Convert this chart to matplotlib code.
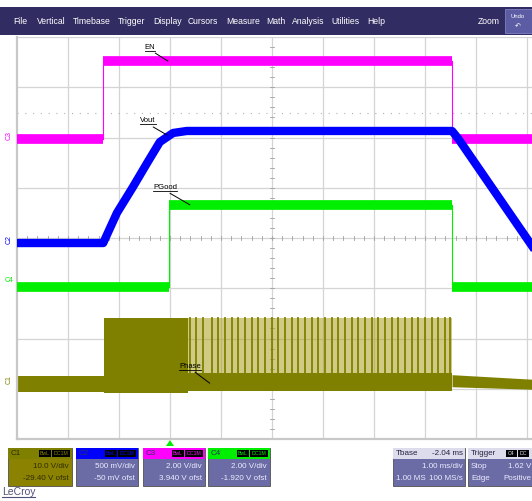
import matplotlib
matplotlib.use("Agg")
import matplotlib.pyplot as plt
from matplotlib.lines import Line2D
from matplotlib.patches import Rectangle, Polygon

plt.rcParams["font.family"] = ["Liberation Sans", "DejaVu Sans"]

W, H = 532, 501

# ---- trace data, in screen divisions (x: 0..10 time div, y: 0..8 volt div)
en_t = [0, 1.69, 1.69, 8.53, 8.53, 10.1]
en_v = [5.97, 5.97, 7.52, 7.52, 5.97, 5.97]

vout_t = [0, 1.69, 1.96, 2.27, 2.55, 2.80, 3.06, 3.33, 3.60, 8.53, 8.65, 10.1]
vout_v = [3.90, 3.90, 4.50, 5.01, 5.49, 5.91, 6.09, 6.13, 6.13, 6.13, 5.98, 3.84]

pg_t = [0, 2.98, 2.98, 8.53, 8.53, 10.1]
pg_v = [3.02, 3.02, 4.66, 4.66, 3.02, 3.02]

# phase node: idle band, full-switching block, burst region, tail
phase_idle_t = [0, 1.71]
phase_idle_lo = [0.93, 0.93]
phase_idle_hi = [1.25, 1.25]
phase_block_t = [1.71, 3.35]
phase_block_lo = [0.92, 0.92]
phase_block_hi = [2.41, 2.41]
phase_burst_t = [3.35, 8.53]
phase_burst_lo = [0.96, 0.96]
phase_burst_mid = [1.32, 1.32]
phase_burst_hi = [2.41, 2.41]
phase_tail_t = [8.53, 10.1]
phase_tail_lo = [1.04, 0.99]
phase_tail_hi = [1.28, 1.19]
phase_pulses = [3.39, 3.51, 3.65, 3.82, 3.94, 4.08, 4.22, 4.33, 4.47, 4.61,
                4.73, 4.86, 5.00, 5.12, 5.25, 5.39, 5.51, 5.65, 5.78, 5.90,
                6.04, 6.18, 6.29, 6.43, 6.57, 6.69, 6.82, 6.96, 7.08, 7.22,
                7.35, 7.47, 7.61, 7.75, 7.86, 8.00, 8.14, 8.25, 8.39, 8.49]

# trace labels: (text, text pos, leader end)
trace_labels = [
    ("EN", (2.61, 7.80), (2.96, 7.52)),
    ("Vout", (2.57, 6.33), (2.94, 6.05)),
    ("PGood", (2.90, 5.01), (3.39, 4.66)),
    ("Phase", (3.39, 1.45), (3.78, 1.11)),
]

menu_items = ["File", "Vertical", "Timebase", "Trigger", "Display", "Cursors",
              "Measure", "Math", "Analysis", "Utilities", "Help"]
menu_x = [13, 37, 73, 118, 153, 188, 226, 266, 292, 331, 367]

channels = ["C1", "C2", "C3", "C4"]
ch_scale = ["10.0 V/div", "500 mV/div", "2.00 V/div", "2.00 V/div"]
ch_offset = ["-29.40 V ofst", "-50 mV ofst", "3.940 V ofst", "-1.920 V ofst"]
ch_box_x = [(8, 72), (76, 138), (143, 205), (208, 270)]

OLIVE = "#808000"
MAGENTA = "#ff00ff"
BLUE = "#0000ff"
GREEN = "#00ee00"
NAVY = "#312d63"
PANEL = "#6b6ba6"


def fx(x):
    return x / W


def fy(y):
    return 1 - y / H


fig = plt.figure(figsize=(W / 100, H / 100), dpi=100)
fig.patch.set_facecolor("white")
underlined = []

# ---- menu bar
fig.add_artist(Rectangle((0, fy(35)), 1, (35 - 7) / H, transform=fig.transFigure,
                         facecolor=NAVY, edgecolor="none"))
for label, x in zip(menu_items, menu_x):
    fig.text(fx(x), fy(21), label, color="white", fontsize=6.2, va="center", ha="left")
fig.text(fx(478), fy(21), "Zoom", color="white", fontsize=6.2, va="center")
fig.add_artist(Rectangle((fx(505), fy(33)), fx(27), 24 / H, transform=fig.transFigure,
                         facecolor="#5c5ca4", edgecolor="#8080c0", lw=0.6))
fig.text(fx(518), fy(16), "Undo", color="white", fontsize=4.2, ha="center", va="center")
fig.text(fx(518), fy(26), "\u21b6", color="white", fontsize=5, ha="center", va="center",
         family=["DejaVu Sans"])

# ---- scope grid
ax = fig.add_axes([fx(17), fy(439), (W - 17) / W, (439 - 37) / H])
ax.set_xlim(0, 515 / 51)
ax.set_ylim(0, 8)
ax.set_xticks([])
ax.set_yticks([])
for s in ("top", "right"):
    ax.spines[s].set_visible(False)
for s in ("left", "bottom"):
    ax.spines[s].set_color("#c8c8c8")
    ax.spines[s].set_linewidth(1.6)
for k in range(1, 11):
    ax.axvline(k, color="#d4d4d4", lw=0.9, zorder=0)
for k in range(1, 9):
    ax.axhline(k, color="#d4d4d4", lw=0.9, zorder=0)
ax.axhline(6.49, color="#b0b0b0", lw=0.8, ls=(0, (1, 6)), zorder=0)
for k in range(50):
    ax.plot([k * 0.2, k * 0.2], [3.96, 4.04], color="#a0a0a0", lw=0.6, zorder=0)
for k in range(40):
    ax.plot([4.96, 5.04], [k * 0.2, k * 0.2], color="#a0a0a0", lw=0.6, zorder=0)


def draw_digital(t, v, color, thick):
    for i in range(len(t) - 1):
        if t[i] == t[i + 1]:
            ax.plot(t[i:i + 2], v[i:i + 2], color=color, lw=0.8, zorder=3)
        else:
            ax.plot(t[i:i + 2], v[i:i + 2], color=color, lw=thick,
                    solid_capstyle="butt", zorder=3)


# phase (C1)
ax.fill_between(phase_idle_t, phase_idle_lo, phase_idle_hi, color=OLIVE, lw=0, zorder=2)
ax.fill_between(phase_block_t, phase_block_lo, phase_block_hi, color=OLIVE, lw=0, zorder=2)
ax.fill_between(phase_burst_t, phase_burst_mid, phase_burst_hi, color="#a8a020",
                alpha=0.55, lw=0, zorder=1)
ax.fill_between(phase_burst_t, phase_burst_lo, phase_burst_mid, color=OLIVE, lw=0, zorder=2)
ax.fill_between(phase_tail_t, phase_tail_lo, phase_tail_hi, color=OLIVE, lw=0, zorder=2)
for p in phase_pulses:
    ax.plot([p, p], [phase_burst_mid[0] - 0.1, phase_burst_hi[0]], color=OLIVE,
            lw=1.3, zorder=2)

draw_digital(en_t, en_v, MAGENTA, 7)
draw_digital(pg_t, pg_v, GREEN, 7)
ax.plot(vout_t, vout_v, color=BLUE, lw=6, zorder=4, solid_joinstyle="round")

for text, (tx, ty), (lx, ly) in trace_labels:
    lab = ax.text(tx, ty, text, fontsize=5.5, ha="center", va="center", zorder=6)
    ax.annotate("", xy=(lx, ly), xytext=(tx + 0.1, ty - 0.12),
                arrowprops=dict(arrowstyle="-", color="black", lw=0.7,
                                shrinkA=0, shrinkB=0), zorder=6)
    underlined.append((lab, "black", 0.6))

# channel ground markers on the left edge
fig.text(fx(9), fy(135), "C3", color=MAGENTA, fontsize=5, rotation=90, ha="center", va="center")
fig.text(fx(9), fy(240), "C2", color=BLUE, fontsize=5, rotation=90, ha="center", va="center")
fig.text(fx(9), fy(280), "C4", color=GREEN, fontsize=5, ha="center", va="center")
fig.text(fx(9), fy(380), "C1", color=OLIVE, fontsize=5, rotation=90, ha="center", va="center")

# trigger marker
fig.add_artist(Polygon([(fx(166), fy(446)), (fx(174), fy(446)), (fx(170), fy(440))],
                       closed=True, transform=fig.transFigure, facecolor=GREEN,
                       edgecolor="none"))

# ---- bottom channel panels
top, mid, bot = 448, 459, 486
head_col = [OLIVE, BLUE, MAGENTA, GREEN]
for ch, sc, of, (x0, x1), hc in zip(channels, ch_scale, ch_offset, ch_box_x, head_col):
    body = "#8a8200" if ch == "C1" else PANEL
    fig.add_artist(Rectangle((fx(x0), fy(bot)), fx(x1 - x0), (bot - top) / H,
                             transform=fig.transFigure, facecolor=body,
                             edgecolor="#505050", lw=0.6))
    fig.add_artist(Rectangle((fx(x0), fy(mid)), fx(x1 - x0), (mid - top) / H,
                             transform=fig.transFigure, facecolor=hc, edgecolor="none"))
    txtc = "#302c00" if ch == "C1" else "#ececff"
    hdr_c = "#2a2a00" if ch == "C1" else "#303060"
    fig.text(fx(x0 + 3), fy(453.5), ch, color=hdr_c, fontsize=5.8, va="center")
    for tag, tx0, tw in (("BwL", x1 - 33, 12), ("DC1M", x1 - 20, 18)):
        fig.add_artist(Rectangle((fx(tx0), fy(457)), fx(tw), 7 / H,
                                 transform=fig.transFigure, facecolor="black",
                                 edgecolor="none"))
        fig.text(fx(tx0 + tw / 2), fy(453.5), tag, color=hc, fontsize=3.8,
                 ha="center", va="center")
    fig.text(fx(x1 - 3), fy(466), sc, color=txtc, fontsize=5.8, ha="right", va="center")
    fig.text(fx(x1 - 3), fy(478), of, color=txtc, fontsize=5.8, ha="right", va="center")

# timebase / trigger panels
for x0, x1 in ((393, 465), (468, 532)):
    fig.add_artist(Rectangle((fx(x0), fy(bot)), fx(x1 - x0), (bot - top) / H,
                             transform=fig.transFigure, facecolor=PANEL,
                             edgecolor="#505050", lw=0.6))
    fig.add_artist(Rectangle((fx(x0), fy(mid)), fx(x1 - x0), (mid - top) / H,
                             transform=fig.transFigure, facecolor="#dcdcec",
                             edgecolor="none"))
fig.text(fx(396), fy(453.5), "Tbase", color="#202040", fontsize=5.8, va="center")
fig.text(fx(463), fy(453.5), "-2.04 ms", color="#202040", fontsize=5.8, va="center", ha="right")
fig.text(fx(463), fy(466), "1.00 ms/div", color="#ececff", fontsize=5.8, va="center", ha="right")
fig.text(fx(396), fy(478), "1.00 MS", color="#ececff", fontsize=5.8, va="center")
fig.text(fx(463), fy(478), "100 MS/s", color="#ececff", fontsize=5.8, va="center", ha="right")
fig.text(fx(471), fy(453.5), "Trigger", color="#202040", fontsize=5.8, va="center")
for tag, tx0 in (("C4", 506), ("DC", 518)):
    fig.add_artist(Rectangle((fx(tx0), fy(457)), fx(11), 7 / H, transform=fig.transFigure,
                             facecolor="black", edgecolor="none"))
    fig.text(fx(tx0 + 5.5), fy(453.5), tag, color="#dcdcec", fontsize=3.8,
             ha="center", va="center")
fig.text(fx(471), fy(466), "Stop", color="#ececff", fontsize=5.8, va="center")
fig.text(fx(531), fy(466), "1.62 V", color="#ececff", fontsize=5.8, va="center", ha="right")
fig.text(fx(471), fy(478), "Edge", color="#ececff", fontsize=5.8, va="center")
fig.text(fx(531), fy(478), "Positive", color="#ececff", fontsize=5.8, va="center", ha="right")

logo = fig.text(fx(2), fy(492), "LeCroy", color="#50507a", fontsize=7.5, va="center")
underlined.append((logo, "#50507a", 0.8))

# underline the labels (matplotlib has no underline text style)
renderer = fig.canvas.get_renderer()
inv = fig.transFigure.inverted()
for art, col, lw in underlined:
    bb = art.get_window_extent(renderer)
    (x0, y0), (x1, _) = inv.transform([(bb.x0, bb.y0), (bb.x1, bb.y1)])
    fig.add_artist(Line2D([x0, x1], [y0, y0], transform=fig.transFigure,
                          color=col, lw=lw, zorder=7))

fig.savefig("out.png", dpi=100)
